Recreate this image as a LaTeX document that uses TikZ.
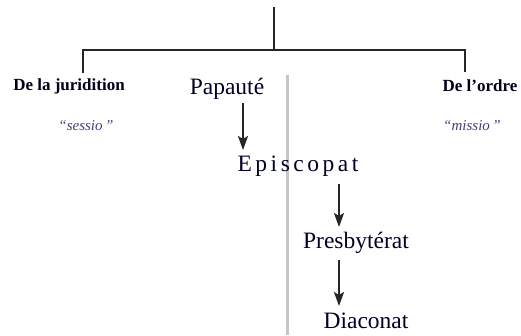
\documentclass[tikz,border=0pt]{standalone}
\usepackage{fontspec}
\setmainfont{Liberation Serif}
\usetikzlibrary{arrows.meta}
\begin{document}
\begin{tikzpicture}[x=1pt,y=-1pt,
  treeline/.style={line width=2.6pt, black!85},
  downarrow/.style={line width=2.4pt, black!85, -{Stealth[length=14pt,width=10pt,inset=3pt]}},
  branchlabel/.style={font=\bfseries\fontsize{17}{19}\selectfont, text=black!90!blue, inner sep=0pt},
  latinlabel/.style={font=\itshape\fontsize{15}{17}\selectfont, text=black!50!blue!50!gray, inner sep=0pt},
  grade/.style={font=\fontsize{23.5}{26}\selectfont, text=black!85!blue, inner sep=0pt}]
\useasboundingbox (0,0) rectangle (521,335);
% tree
\coordinate (root) at (274,7);
\coordinate (hub) at (274,50);
\coordinate (lt) at (83,50);
\coordinate (rt) at (465,50);
\coordinate (ld) at (83,73);
\coordinate (rd) at (465,72);
\draw[treeline] (root) -- (hub);
\draw[treeline] (ld) -- (lt) -- (rt) -- (rd);
% labels
\node[branchlabel] (jur) at (69,86) {De la juridition};
\node[branchlabel] (ord) at (480,86) {De l'ordre};
\node[latinlabel] (sessio) at (86,126) {``sessio\,''};
\node[latinlabel] (missio) at (472,126) {``missio\,''};
% separator
\coordinate (sepTop) at (287,75);
\coordinate (sepBot) at (287,335);
\draw[line width=3pt, black!22] (sepTop) -- (sepBot);
% grades
\node[grade] (pap) at (227,89) {Papauté};
\node[grade] (epi) at (298,166) {\addfontfeature{LetterSpace=15}Episcopat};
\node[grade] (pre) at (356,243) {Presbytérat};
\node[grade] (dia) at (366,321) {Diaconat};
\coordinate (a1s) at (243,103); \coordinate (a1e) at (243,150);
\coordinate (a2s) at (339,184); \coordinate (a2e) at (339,227);
\coordinate (a3s) at (339,260); \coordinate (a3e) at (339,306);
\draw[downarrow] (a1s) -- (a1e);
\draw[downarrow] (a2s) -- (a2e);
\draw[downarrow] (a3s) -- (a3e);
\end{tikzpicture}
\end{document}
